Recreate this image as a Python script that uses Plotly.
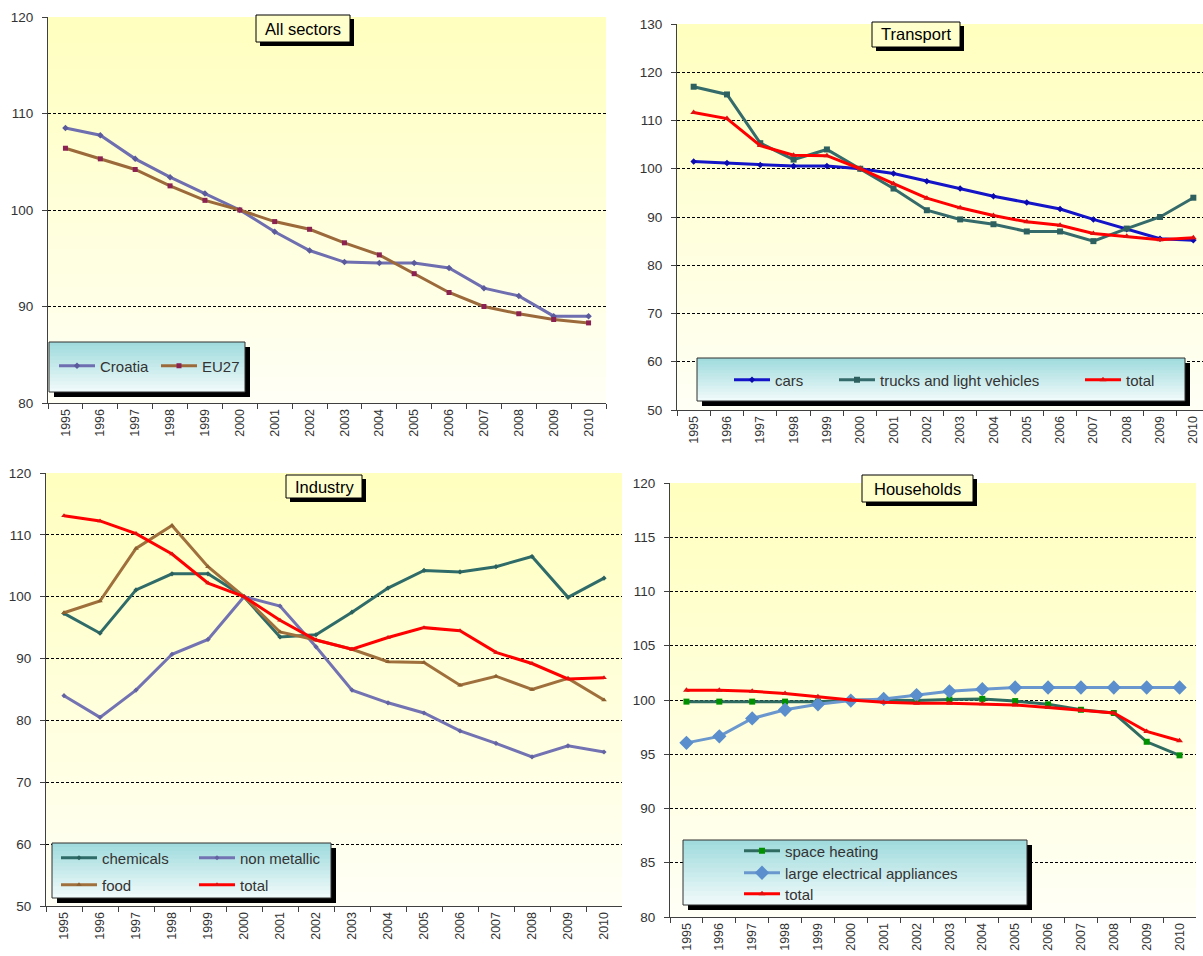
import plotly.graph_objects as go

W, H = 1203, 956

years = [str(y) for y in range(1995, 2011)]

# ---- All sectors ----
all_croatia = [108.5, 107.75, 105.3, 103.4, 101.7, 100.0, 97.75, 95.8, 94.6, 94.5, 94.5, 94.0, 91.9, 91.1, 89.0, 89.0]
all_eu27 = [106.4, 105.3, 104.2, 102.5, 101.0, 100.0, 98.8, 98.0, 96.6, 95.35, 93.4, 91.45, 90.0, 89.25, 88.65, 88.3]

# ---- Transport ----
tr_cars = [101.5, 101.2, 100.8, 100.55, 100.55, 100.0, 99.0, 97.4, 95.9, 94.3, 93.0, 91.65, 89.5, 87.45, 85.5, 85.2]
tr_trucks = [117.0, 115.4, 105.3, 101.9, 104.0, 100.0, 95.9, 91.4, 89.5, 88.5, 87.0, 87.0, 85.0, 87.6, 90.0, 94.0]
tr_total = [111.65, 110.4, 104.8, 102.8, 102.7, 100.0, 96.9, 93.9, 91.9, 90.3, 89.0, 88.3, 86.6, 86.0, 85.3, 85.7]

# ---- Industry ----
ind_chem = [97.3, 94.1, 101.1, 103.7, 103.7, 100.0, 93.5, 93.85, 97.5, 101.4, 104.25, 104.0, 104.85, 106.5, 99.9, 103.0]
ind_nonmet = [84.0, 80.5, 84.9, 90.7, 93.1, 100.0, 98.5, 91.9, 84.9, 82.85, 81.2, 78.3, 76.3, 74.1, 75.9, 74.9]
ind_food = [97.4, 99.3, 107.8, 111.5, 104.85, 100.0, 94.3, 93.0, 91.5, 89.5, 89.35, 85.7, 87.15, 85.0, 86.8, 83.3]
ind_total = [113.1, 112.25, 110.2, 106.9, 102.2, 100.0, 96.2, 93.0, 91.5, 93.4, 95.0, 94.5, 91.0, 89.2, 86.7, 86.9]

# ---- Households ----
hh_heat = [99.85, 99.85, 99.85, 99.85, 99.85, 100.0, 99.95, 99.95, 100.05, 100.1, 99.9, 99.6, 99.1, 98.8, 96.15, 94.9]
hh_appl = [96.05, 96.65, 98.3, 99.1, 99.6, 99.95, 100.1, 100.45, 100.8, 101.0, 101.15, 101.15, 101.15, 101.15, 101.15, 101.15]
hh_total = [100.9, 100.9, 100.8, 100.6, 100.3, 100.0, 99.8, 99.7, 99.7, 99.65, 99.55, 99.3, 99.05, 98.8, 97.1, 96.25]

FONT = "Liberation Sans, Arial, sans-serif"


def fx(x):
    return x / W


def fy(y):
    return 1 - y / H


fig = go.Figure()
shapes = []
annotations = []

# panel geometry in pixels: x0, x1, ytop, ybottom
panels = [
    dict(n="", xd=(48, 606), yd=(17, 403), yr=[80, 120], dt=10, xr=[-0.5, 15.5]),
    dict(n="2", xd=(677, 1203), yd=(24, 410), yr=[50, 130], dt=10, xr=[-0.5, 15.29]),
    dict(n="3", xd=(46, 622), yd=(473, 906), yr=[50, 120], dt=10, xr=[-0.5, 15.5]),
    dict(n="4", xd=(670, 1196), yd=(483, 917), yr=[80, 120], dt=5, xr=[-0.5, 15.5]),
]

layout_axes = {}
for p in panels:
    n = p["n"]
    layout_axes["xaxis" + n] = dict(
        domain=[fx(p["xd"][0]), fx(p["xd"][1])],
        anchor="y" + n,
        type="category",
        range=p["xr"],
        showgrid=False,
        showline=True, linecolor="#404040", linewidth=1,
        ticks="outside", ticklen=5, tickcolor="#404040", tickson="boundaries",
        tickangle=-90,
        tickfont=dict(family=FONT, size=12.5, color="#333333"),
        zeroline=False, fixedrange=True,
    )
    layout_axes["yaxis" + n] = dict(
        domain=[fy(p["yd"][1]), fy(p["yd"][0])],
        anchor="x" + n,
        range=p["yr"], dtick=p["dt"], tick0=0,
        showgrid=True, gridcolor="#000000", gridwidth=1, griddash="3px,2px",
        showline=True, linecolor="#404040", linewidth=1,
        ticks="outside", ticklen=5, tickcolor="#404040",
        ticklabelstandoff=6,
        tickfont=dict(family=FONT, size=13.5, color="#333333"),
        zeroline=False, fixedrange=True,
    )
    # gradient plot background (overlapping bands)
    nb = 30
    for i in range(nb):
        t = (i + 0.5) / nb
        b = int(round(190 + (246 - 190) * t))
        shapes.append(dict(
            type="rect", xref="x" + n + " domain", yref="y" + n + " domain",
            x0=0, x1=1, y0=max(0, 1 - (i + 1.2) / nb), y1=1 - i / nb,
            fillcolor=f"rgb(255,255,{b})", line=dict(width=0), layer="below",
        ))


def box(x0, y0, x1, y1, kind, shadow=5):
    shapes.append(dict(type="rect", xref="paper", yref="paper",
                       x0=fx(x0 + shadow), x1=fx(x1 + shadow), y0=fy(y1 + shadow), y1=fy(y0 + shadow),
                       fillcolor="#000000", line=dict(width=0), layer="above"))
    if kind == "legend":
        nb = 14
        c0 = (158, 218, 220)
        c1 = (242, 251, 251)
        for i in range(nb):
            t = (i + 0.5) / nb
            c = tuple(int(round(c0[k] + (c1[k] - c0[k]) * t)) for k in range(3))
            ya = y0 + (y1 - y0) * i / nb
            yb = min(y1, y0 + (y1 - y0) * (i + 1) / nb + 1.5)
            shapes.append(dict(type="rect", xref="paper", yref="paper",
                               x0=fx(x0), x1=fx(x1), y0=fy(yb), y1=fy(ya),
                               fillcolor="rgb(%d,%d,%d)" % c, line=dict(width=0), layer="above"))
        shapes.append(dict(type="rect", xref="paper", yref="paper",
                           x0=fx(x0), x1=fx(x1), y0=fy(y1), y1=fy(y0),
                           fillcolor="rgba(0,0,0,0)", line=dict(width=1, color="#303030"), layer="above"))
    else:
        shapes.append(dict(type="rect", xref="paper", yref="paper",
                           x0=fx(x0), x1=fx(x1), y0=fy(y1), y1=fy(y0),
                           fillcolor="#FFFFCC", line=dict(width=1, color="#000000"), layer="above"))


# titles
titles = [
    ("All sectors", 256, 15, 350, 42),
    ("Transport", 872, 22, 960, 47),
    ("Industry", 286, 475, 362, 498),
    ("Households", 862, 475, 973, 502),
]
for text, x0, y0, x1, y1 in titles:
    box(x0, y0, x1, y1, "title", shadow=4)
    annotations.append(dict(text=text, x=fx((x0 + x1) / 2), y=fy((y0 + y1) / 2),
                            xref="paper", yref="paper", showarrow=False,
                            xanchor="center", yanchor="middle",
                            font=dict(family=FONT, size=16.5, color="#000000")))

# legend boxes
box(49, 342, 245, 392, "legend")
box(697, 358, 1185, 401, "legend")
box(52, 843, 331, 898, "legend")
box(683, 840, 1027, 905, "legend")

legend_specs = {}
legend_count = [0]


def add(vals, name, ax, color, width, symbol, msize, mcolor, lx, ly):
    legend_count[0] += 1
    k = legend_count[0]
    lname = "legend" if k == 1 else "legend%d" % k
    legend_specs[lname] = dict(
        x=fx(lx - 5), y=fy(ly), xanchor="left", yanchor="middle",
        bgcolor="rgba(0,0,0,0)", borderwidth=0, itemwidth=36,
        font=dict(family=FONT, size=15, color="#333333"),
        itemclick=False, itemdoubleclick=False,
    )
    fig.add_trace(go.Scatter(
        x=years, y=vals, name=name, mode="lines+markers",
        xaxis="x" + ax, yaxis="y" + ax, legend=lname,
        line=dict(color=color, width=width),
        marker=dict(symbol=symbol, size=msize, color=mcolor, line=dict(width=0)),
        cliponaxis=True,
    ))


# All sectors
add(all_croatia, "Croatia", "", "#6E6EB0", 3, "diamond", 5, "#5A5A9C", 59, 366)
add(all_eu27, "EU27", "", "#9C6A3A", 3, "square", 5, "#8B2252", 161, 366)
# Transport
add(tr_cars, "cars", "2", "#1414C8", 3, "diamond", 5, "#0A0AB0", 734, 380)
add(tr_trucks, "trucks and light vehicles", "2", "#356B6B", 3, "square", 6, "#2E6060", 839, 380)
add(tr_total, "total", "2", "#FF0000", 3, "triangle-up", 6, "#E01010", 1085, 380)
# Industry
add(ind_chem, "chemicals", "3", "#2F6C69", 3, "diamond", 4, "#2A605E", 61, 858)
add(ind_nonmet, "non metallic", "3", "#7373B3", 3, "diamond", 4, "#6363A3", 199, 858)
add(ind_food, "food", "3", "#A0703C", 3, "triangle-up", 5, "#8C6030", 61, 885)
add(ind_total, "total", "3", "#FF0000", 3, "triangle-up", 5, "#E01010", 199, 885)
# Households
add(hh_heat, "space heating", "4", "#2F6B60", 3, "square", 6, "#009000", 744, 851)
add(hh_appl, "large electrical appliances", "4", "#6A98CE", 3, "diamond", 11, "#5A8ECC", 744, 873)
add(hh_total, "total", "4", "#FF0000", 3, "triangle-up", 6, "#E01010", 744, 894)

fig.update_layout(
    width=W, height=H,
    margin=dict(l=0, r=0, t=0, b=0, autoexpand=False),
    paper_bgcolor="#FFFFFF", plot_bgcolor="rgba(0,0,0,0)",
    showlegend=True,
    shapes=shapes, annotations=annotations,
    font=dict(family=FONT),
    **layout_axes,
    **legend_specs,
)

fig.write_html(
    "out.html",
    config={"displayModeBar": False},
    post_script="document.body.style.margin='0';document.body.style.overflow='hidden';",
)
